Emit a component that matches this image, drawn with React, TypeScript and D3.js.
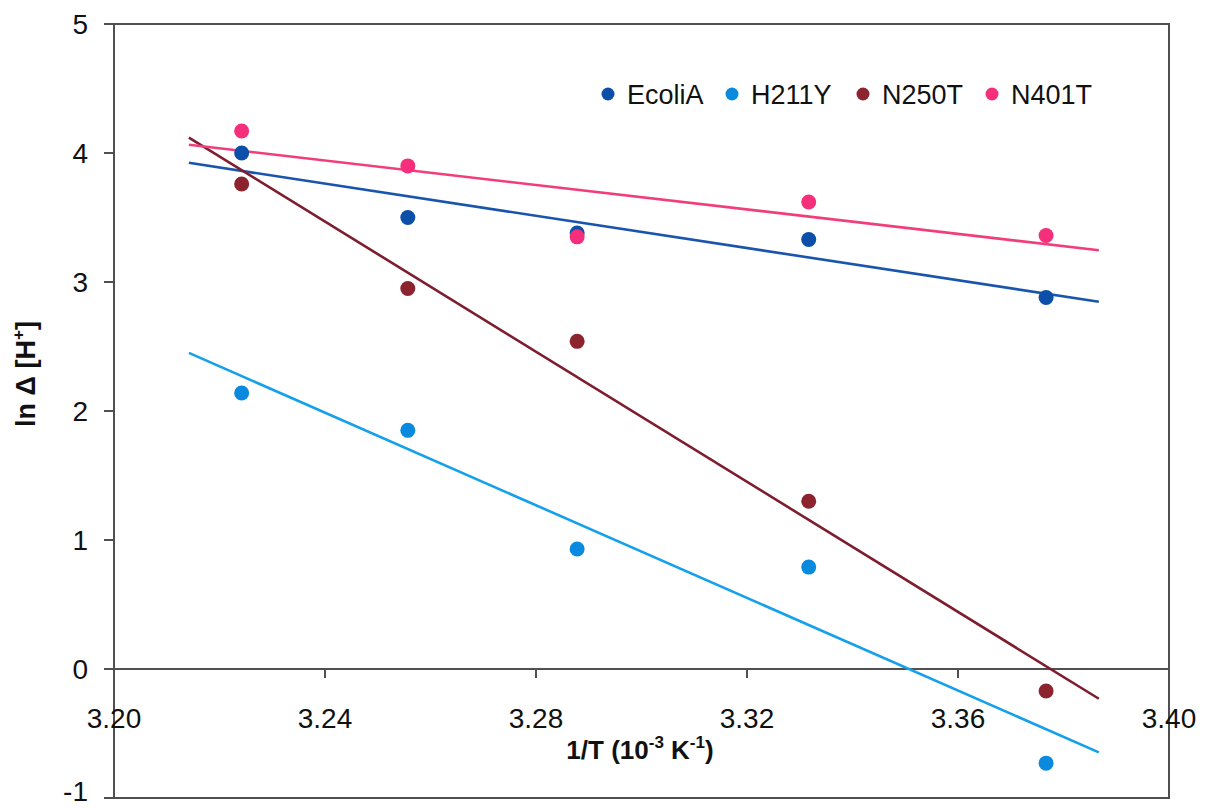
import React from "react";
import * as d3 from "d3";

const invT: number[] = [3.2242, 3.2557, 3.2878, 3.3317, 3.3767];
const seriesNames: string[] = ["EcoliA", "H211Y", "N250T", "N401T"];
const ecoliA: number[] = [4.0, 3.5, 3.38, 3.33, 2.88];
const h211y: number[] = [2.14, 1.85, 0.93, 0.79, -0.73];
const n250t: number[] = [3.76, 2.95, 2.54, 1.3, -0.17];
const n401t: number[] = [4.17, 3.9, 3.35, 3.62, 3.36];
const xTicks: number[] = [3.2, 3.24, 3.28, 3.32, 3.36, 3.4];
const yTicks: number[] = [5, 4, 3, 2, 1, 0, -1];
const forecast = 0.01;

const markerColors = ["#0b4fa8", "#0a8ade", "#8c2430", "#f52f7c"];
const lineColors = ["#1a55ad", "#14a0ea", "#7d1d2e", "#f23d7c"];
const legendX = [608, 732, 863, 992];

const W = 1206;
const H = 808;
const left = 114, right = 1169, top = 24, bottom = 798;
const font = "'Liberation Sans', Arial, Helvetica, sans-serif";

function fit(xs: number[], ys: number[]) {
  const mx = d3.mean(xs)!;
  const my = d3.mean(ys)!;
  let sxy = 0, sxx = 0;
  xs.forEach((x, i) => {
    sxy += (x - mx) * (ys[i] - my);
    sxx += (x - mx) * (x - mx);
  });
  const b = sxy / sxx;
  return { b, a: my - b * mx };
}

export default function App() {
  const x = d3.scaleLinear().domain([3.2, 3.4]).range([left, right]);
  const y = d3.scaleLinear().domain([-1, 5]).range([bottom, top]);
  const data = [ecoliA, h211y, n250t, n401t];
  const x0 = d3.min(invT)! - forecast;
  const x1 = d3.max(invT)! + forecast;
  const line = d3
    .line<[number, number]>()
    .x((d) => x(d[0]))
    .y((d) => y(d[1]));
  const axisColor = "#505050";

  return (
    <svg
      width={W}
      height={H}
      style={{ position: "absolute", left: 0, top: 0, background: "#fff" }}
      fontFamily={font}
    >
      <rect x={0} y={0} width={W} height={H} fill="#fff" />
      <rect
        x={left}
        y={top}
        width={right - left}
        height={bottom - top}
        fill="none"
        stroke={axisColor}
        strokeWidth={2}
      />
      {yTicks.map((t) => (
        <g key={"y" + t}>
          <line x1={left - 10} x2={left} y1={y(t)} y2={y(t)} stroke={axisColor} strokeWidth={2} />
          <text
            x={88}
            y={t === -1 ? 801 : y(t)}
            dy={t === -1 ? 0 : "0.36em"}
            textAnchor="end"
            fontSize={28}
            fill="#111"
          >
            {t}
          </text>
        </g>
      ))}
      <line x1={left} x2={right} y1={y(0)} y2={y(0)} stroke={axisColor} strokeWidth={2} />
      {xTicks.map((t) => (
        <g key={"x" + t}>
          <line x1={x(t)} x2={x(t)} y1={y(0)} y2={y(0) + 9} stroke={axisColor} strokeWidth={2} />
          <text x={x(t)} y={y(0) + 59} textAnchor="middle" fontSize={28} fill="#111">
            {t.toFixed(2)}
          </text>
        </g>
      ))}
      {data.map((ys, i) => {
        const { a, b } = fit(invT, ys);
        const pts: [number, number][] = [
          [x0, a + b * x0],
          [x1, a + b * x1],
        ];
        return (
          <path key={"l" + i} d={line(pts)!} fill="none" stroke={lineColors[i]} strokeWidth={2.6} />
        );
      })}
      {data.map((ys, i) => (
        <g key={"m" + i}>
          {ys.map((v, j) => (
            <circle key={j} cx={x(invT[j])} cy={y(v)} r={7.5} fill={markerColors[i]} />
          ))}
        </g>
      ))}
      {seriesNames.map((n, i) => (
        <g key={"lg" + i}>
          <circle cx={legendX[i]} cy={94} r={6.5} fill={markerColors[i]} />
          <text x={legendX[i] + 19} y={104} fontSize={27} fill="#111">
            {n}
          </text>
        </g>
      ))}
      <text x={640} y={759} textAnchor="middle" fontSize={26} fontWeight="bold" fill="#111">
        1/T (10
        <tspan dy={-11} fontSize={17}>-3</tspan>
        <tspan dy={11}> K</tspan>
        <tspan dy={-11} fontSize={17}>-1</tspan>
        <tspan dy={11}>)</tspan>
      </text>
      <text
        transform={`translate(35, 374) rotate(-90)`}
        textAnchor="middle"
        fontSize={27}
        fontWeight="bold"
        fill="#111"
      >
        ln Δ [H
        <tspan dy={-11} fontSize={17}>+</tspan>
        <tspan dy={11}>]</tspan>
      </text>
    </svg>
  );
}
